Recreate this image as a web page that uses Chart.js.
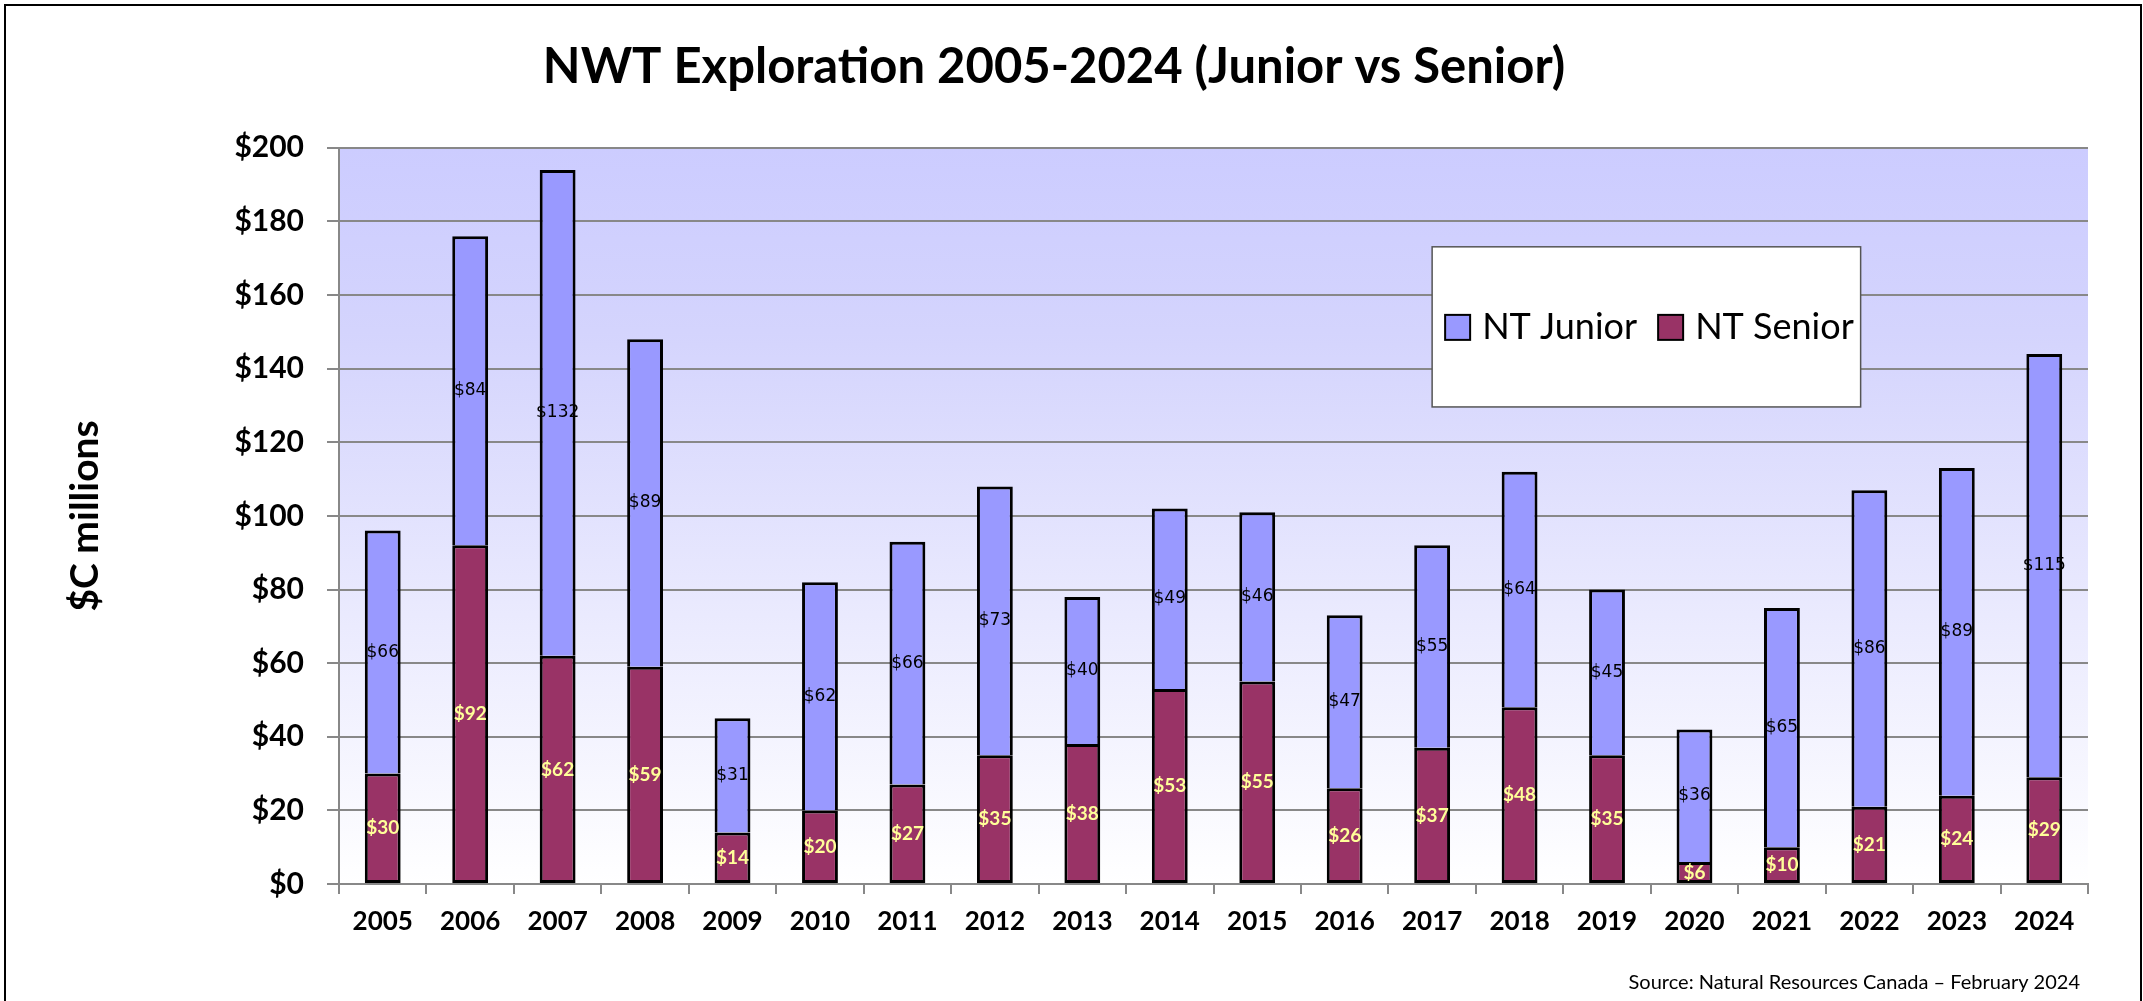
<!DOCTYPE html>
<html>
<head>
<meta charset="utf-8">
<script src="https://cdn.jsdelivr.net/npm/chart.js@4.4.1/dist/chart.umd.min.js"></script>
<style>
	html, body { margin: 0; padding: 0; background: #fff; }
	#wrap { width: 2143px; height: 1001px; position: relative; }
</style>
</head>
<body>
<div id="wrap"><canvas id="bar-chartcanvas"></canvas></div>
<script>
// chart values ($C millions)
var years = ['2005','2006','2007','2008','2009','2010','2011','2012','2013','2014',
	'2015','2016','2017','2018','2019','2020','2021','2022','2023','2024'];
var seniorValues = [30, 92, 62, 59, 14, 20, 27, 35, 38, 53, 55, 26, 37, 48, 35, 6, 10, 21, 24, 29];
var juniorValues = [66, 84, 132, 89, 31, 62, 66, 73, 40, 49, 46, 47, 55, 64, 45, 36, 65, 86, 89, 115];
var yMin = 0, yMax = 200, yStep = 20;

var juniorColor = "#9999FF";
var seniorColor = "#993366";
var gridColor = "#888888";

// plot area gradient, labels inside bars, legend box, source line, outer frame
var decorPlugin = {
	id : "decor",
	beforeDraw : function(chart) {
		var ctx = chart.ctx, a = chart.chartArea;
		ctx.save();
		var g = ctx.createLinearGradient(0, a.top, 0, a.bottom);
		g.addColorStop(0, "#CCCCFF");
		g.addColorStop(0.25, "#D4D4FD");
		g.addColorStop(1, "#FFFFFF");
		ctx.fillStyle = g;
		ctx.fillRect(a.left, a.top, a.right - a.left, a.bottom - a.top);
		ctx.restore();
	},
	afterDatasetsDraw : function(chart) {
		var ctx = chart.ctx;
		ctx.save();
		ctx.textAlign = "center";
		ctx.textBaseline = "middle";
		chart.data.datasets.forEach(function(ds, i) {
			var meta = chart.getDatasetMeta(i);
			meta.data.forEach(function(bar, j) {
				var y = (bar.y + bar.base) / 2;
				if (ds.label == "NT Senior") {
					ctx.font = "bold 19px Lato";
					ctx.fillStyle = "#FFFF99";
				} else {
					ctx.font = "17px 'DejaVu Sans'";
					ctx.fillStyle = "#000";
				}
				ctx.fillText("$" + ds.data[j], bar.x, y);
			});
		});
		ctx.restore();
	},
	afterDraw : function(chart) {
		var ctx = chart.ctx, a = chart.chartArea;
		var w = a.right - a.left, h = a.bottom - a.top;
		ctx.save();

		// legend box
		var bx = a.left + w * 0.625, by = a.top + h * 0.1345;
		var bw = w * 0.245, bh = h * 0.2175;
		ctx.fillStyle = "#fff";
		ctx.fillRect(bx, by, bw, bh);
		ctx.strokeStyle = "#555";
		ctx.lineWidth = 1.5;
		ctx.strokeRect(bx, by, bw, bh);

		var cy = by + bh / 2;
		var items = [
			{ label : "NT Junior", color : juniorColor, x : bx + 13 },
			{ label : "NT Senior", color : seniorColor, x : bx + 226 }
		];
		ctx.font = "36px Lato";
		ctx.textBaseline = "middle";
		ctx.textAlign = "left";
		items.forEach(function(it) {
			ctx.fillStyle = it.color;
			ctx.fillRect(it.x, cy - 12, 25, 25);
			ctx.strokeStyle = "#000";
			ctx.lineWidth = 2;
			ctx.strokeRect(it.x, cy - 12, 25, 25);
			ctx.fillStyle = "#000";
			ctx.fillText(it.label, it.x + 37, cy + 1);
		});

		// source line
		ctx.font = "20px Lato";
		ctx.textAlign = "right";
		ctx.fillStyle = "#000";
		ctx.fillText("Source: Natural Resources Canada \u2013 February 2024", 2080, 983);

		// outer frame
		ctx.strokeStyle = "#000";
		ctx.lineWidth = 2;
		ctx.strokeRect(5, 5, 2136, 1030);
		ctx.restore();
	}
};

var ctx = document.getElementById("bar-chartcanvas");

var data = {
	labels : years,
	datasets : [
		{
			label : "NT Senior",
			data : seniorValues,
			backgroundColor : seniorColor,
			borderColor : "#000",
			borderWidth : 3,
			borderSkipped : false
		},
		{
			label : "NT Junior",
			data : juniorValues,
			backgroundColor : juniorColor,
			borderColor : "#000",
			borderWidth : 3,
			borderSkipped : "start"
		}
	]
};

var options = {
	responsive : true,
	maintainAspectRatio : false,
	animation : false,
	layout : {
		padding : { top : 10, left : 20, right : 55, bottom : 10 }
	},
	datasets : {
		bar : { barPercentage : 0.41, categoryPercentage : 1.0 }
	},
	plugins : {
		legend : { display : false },
		tooltip : { enabled : false },
		title : {
			display : true,
			text : "NWT Exploration 2005-2024 (Junior vs Senior)",
			color : "#000",
			font : { family : "Lato", size : 49, weight : "bold" },
			padding : { top : 28, bottom : 51 }
		}
	},
	scales : {
		x : {
			stacked : true,
			afterFit : function(axis) { axis.height = 107; },
			grid : {
				offset : true,
				drawOnChartArea : false,
				drawTicks : true,
				tickLength : 10,
				color : gridColor,
				lineWidth : 2
			},
			border : { color : gridColor, width : 2 },
			ticks : {
				color : "#000",
				padding : 12,
				font : { family : "Lato", size : 26, weight : "bold" }
			}
		},
		y : {
			stacked : true,
			min : yMin,
			max : yMax,
			afterFit : function(axis) { axis.width = 319; },
			grid : {
				color : gridColor,
				lineWidth : 2,
				tickLength : 12
			},
			border : { color : gridColor, width : 2 },
			ticks : {
				stepSize : yStep,
				color : "#000",
				padding : 23,
				font : { family : "Lato", size : 30, weight : "bold" },
				callback : function(v) { return "$" + v; }
			},
			title : {
				display : true,
				text : "$C millions",
				color : "#000",
				font : { family : "Lato", size : 39, weight : "bold" },
				padding : { top : 42, bottom : 0 }
			}
		}
	}
};

var chart = new Chart(ctx, {
	type : "bar",
	data : data,
	options : options,
	plugins : [decorPlugin]
});
</script>
</body>
</html>
